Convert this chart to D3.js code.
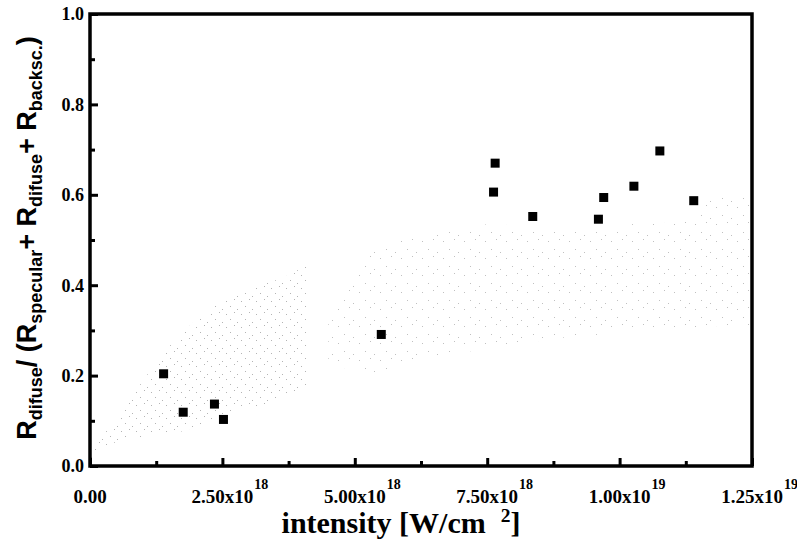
<!DOCTYPE html>
<html>
<head>
<meta charset="utf-8">
<script src="https://cdn.jsdelivr.net/npm/d3@7"></script>
<style>
  body { margin: 0; background: #fff; }
  svg { display: block; }
</style>
</head>
<body>
<div id="chart"></div>
<script>
// measured points: intensity [W/cm^2] and reflectivity ratio
var intensity = [1.39e18, 1.76e18, 2.35e18, 2.52e18, 5.50e18, 7.62e18, 7.65e18,
                 8.36e18, 9.60e18, 9.70e18, 10.27e18, 10.76e18, 11.40e18];
var ratio = [0.204, 0.119, 0.137, 0.103, 0.291, 0.606, 0.670,
             0.552, 0.546, 0.594, 0.619, 0.697, 0.587];

// faint dotted bands behind the points (outline)
var leftBandX     = [0, 0.2e18, 0.7e18, 1.5e18, 2.8e18, 3.7e18, 4.1e18];
var leftBandUpper = [0.03, 0.06, 0.14, 0.265, 0.385, 0.42, 0.445];
var leftBandLower = [0.0, 0.03, 0.06, 0.07, 0.12, 0.15, 0.175];
var rightBandX     = [4.5e18, 5.3e18, 6.4e18, 7.6e18, 9.0e18, 10.2e18, 11.2e18, 11.9e18, 12.5e18];
var rightBandUpper = [0.34, 0.47, 0.515, 0.535, 0.52, 0.535, 0.54, 0.60, 0.60];
var rightBandLower = [0.23, 0.205, 0.24, 0.26, 0.285, 0.295, 0.305, 0.31, 0.31];

var xMajor = [0, 2.5e18, 5e18, 7.5e18, 1e19, 1.25e19];
var xMinor = [1.25e18, 3.75e18, 6.25e18, 8.75e18, 1.125e19];
var xTickBase = ["0.00", "2.50x10", "5.00x10", "7.50x10", "1.00x10", "1.25x10"];
var xTickExp  = ["", "18", "18", "18", "19", "19"];
var yMajor = [0, 0.2, 0.4, 0.6, 0.8, 1.0];
var yMinor = [0.1, 0.3, 0.5, 0.7, 0.9];

var W = 797, H = 548;
var margin = { left: 90, right: 45, top: 14, bottom: 82 };
var serif = "'Liberation Serif', 'Times New Roman', Times, 'DejaVu Serif', serif";

var svg = d3.select("#chart").append("svg")
  .attr("width", W).attr("height", H);

var x = d3.scaleLinear().domain([0, 1.25e19]).range([margin.left, W - margin.right]);
var y = d3.scaleLinear().domain([0, 1]).range([H - margin.bottom, margin.top]);

// sparse dot patterns for the bands
var defs = svg.append("defs");
var pL = defs.append("pattern").attr("id", "dotsL").attr("patternUnits", "userSpaceOnUse")
  .attr("width", 15).attr("height", 13);
[[1, 2], [9, 0], [5, 7], [12, 10]].forEach(p => {
  pL.append("rect").attr("x", p[0]).attr("y", p[1]).attr("width", 1).attr("height", 1).attr("fill", "#b4b4b4");
});
var pR = defs.append("pattern").attr("id", "dotsR").attr("patternUnits", "userSpaceOnUse")
  .attr("width", 21).attr("height", 17);
[[2, 3], [13, 1], [8, 11], [17, 14]].forEach(p => {
  pR.append("rect").attr("x", p[0]).attr("y", p[1]).attr("width", 1).attr("height", 1).attr("fill", "#c0c0c0");
});

var area = d3.area().x(d => x(d.x)).y0(d => y(d.lo)).y1(d => y(d.hi)).curve(d3.curveMonotoneX);
svg.append("path")
  .datum(leftBandX.map((v, i) => ({ x: v, lo: leftBandLower[i], hi: leftBandUpper[i] })))
  .attr("d", area).attr("fill", "url(#dotsL)");
svg.append("path")
  .datum(rightBandX.map((v, i) => ({ x: v, lo: rightBandLower[i], hi: rightBandUpper[i] })))
  .attr("d", area).attr("fill", "url(#dotsR)");

// axes: ticks pointing inward
svg.append("g").attr("transform", "translate(0," + y(0) + ")")
  .call(d3.axisBottom(x).tickValues(xMajor).tickSize(-8).tickFormat(""));
svg.append("g").attr("transform", "translate(0," + y(0) + ")")
  .call(d3.axisBottom(x).tickValues(xMinor).tickSize(-5).tickFormat(""));
svg.append("g").attr("transform", "translate(" + x(0) + ",0)")
  .call(d3.axisLeft(y).tickValues(yMajor).tickSize(-8).tickFormat(""));
svg.append("g").attr("transform", "translate(" + x(0) + ",0)")
  .call(d3.axisLeft(y).tickValues(yMinor).tickSize(-5).tickFormat(""));
svg.selectAll(".domain").remove();
svg.selectAll(".tick line").attr("stroke", "#000").attr("stroke-width", 3);

// frame
svg.append("rect")
  .attr("x", x(0)).attr("y", y(1))
  .attr("width", x(1.25e19) - x(0)).attr("height", y(0) - y(1))
  .attr("fill", "none").attr("stroke", "#000").attr("stroke-width", 3.5);

// y tick labels
svg.selectAll(".ylbl").data(yMajor).enter().append("text")
  .attr("x", x(0) - 6).attr("y", d => y(d))
  .attr("dy", "0.35em").attr("text-anchor", "end")
  .style("font-family", serif).style("font-weight", "bold")
  .style("font-size", "18px")
  .text(d => d.toFixed(1));

// x tick labels with superscript exponents
xMajor.forEach((v, i) => {
  var t = svg.append("text")
    .attr("x", x(v)).attr("y", 503).attr("text-anchor", "middle")
    .style("font-family", serif).style("font-weight", "bold")
    .style("font-size", "19px").text(xTickBase[i]);
  if (xTickExp[i]) {
    var w = t.node().getComputedTextLength();
    svg.append("text")
      .attr("x", x(v) + w / 2 + 1).attr("y", 489)
      .style("font-family", serif).style("font-weight", "bold")
      .style("font-size", "14px").text(xTickExp[i]);
  }
});

// x axis title, sized to the reference width
var xt = svg.append("text")
  .attr("x", 401).attr("y", 533).attr("text-anchor", "middle")
  .style("font-family", serif).style("font-weight", "bold");
xt.append("tspan").attr("class", "big").text("intensity [W/cm\u00a0\u00a0");
xt.append("tspan").attr("class", "sup").attr("dy", -11).text("2");
xt.append("tspan").attr("class", "big").attr("dy", 11).text("]");
var fs = 26;
xt.selectAll(".big").style("font-size", fs + "px");
xt.selectAll(".sup").style("font-size", (fs * 0.65) + "px");
var wt = xt.node().getComputedTextLength();
if (wt > 0) {
  fs = Math.min(30, fs * 245 / wt);
  xt.selectAll(".big").style("font-size", fs + "px");
  xt.selectAll(".sup").style("font-size", (fs * 0.65) + "px");
}

// y axis title with subscripts
var yt = svg.append("text")
  .attr("transform", "translate(36,238) rotate(-90)")
  .attr("text-anchor", "middle")
  .style("font-family", "'Liberation Sans', Arial, sans-serif")
  .style("font-weight", "bold");
var parts = [["R", 0], ["difuse", 1], ["/ (R", 0], ["specular", 1], ["+ R", 0],
             ["difuse", 1], ["+ R", 0], ["backsc.", 1], [")", 0]];
var cur = 0;
parts.forEach(p => {
  var shift = p[1] ? 6 : 0;
  yt.append("tspan").attr("dy", shift - cur)
    .style("font-size", p[1] ? "18px" : "27px").text(p[0]);
  cur = shift;
});

// data squares
svg.selectAll(".pt").data(intensity).enter().append("rect")
  .attr("class", "pt")
  .attr("x", d => x(d) - 4.5).attr("y", (d, i) => y(ratio[i]) - 4.5)
  .attr("width", 9).attr("height", 9)
  .attr("fill", "#000");
</script>
</body>
</html>
